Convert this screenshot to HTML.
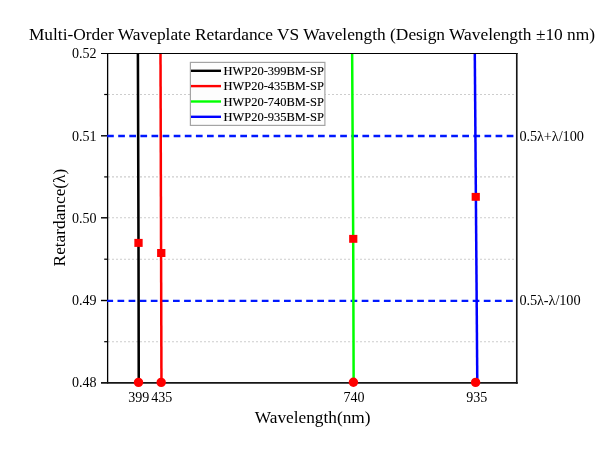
<!DOCTYPE html>
<html><head><meta charset="utf-8">
<style>
html,body{margin:0;padding:0;background:#fff;}
body{width:600px;height:459px;overflow:hidden;}
svg{display:block;will-change:transform;}
text{font-family:"Liberation Serif",serif;fill:#000;}
</style></head>
<body>
<svg width="600" height="459" viewBox="0 0 600 459">
<rect width="600" height="459" fill="#fff"/>
<!-- plot bg -->
<rect x="108" y="53" width="409" height="330" fill="#ffffff"/>
<!-- grid -->
<g stroke="#cdcdcd" stroke-width="1.1" stroke-dasharray="2 2">
<line x1="108" x2="515" y1="94.5" y2="94.5"/>
<line x1="108" x2="515" y1="176.9" y2="176.9"/>
<line x1="108" x2="515" y1="217.8" y2="217.8"/>
<line x1="108" x2="515" y1="259.2" y2="259.2"/>
<line x1="108" x2="515" y1="341.7" y2="341.7"/>
</g>
<!-- axes -->
<g stroke="#000" fill="none">
<line x1="101" x2="517.6" y1="53.5" y2="53.5" stroke-width="1.15"/>
<line x1="107.62" x2="107.62" y1="53" y2="383.4" stroke-width="1.3"/>
<line x1="101" x2="517.7" y1="382.87" y2="382.87" stroke-width="1.7" stroke="#161616"/>
<line x1="516.78" x2="516.78" y1="53" y2="383.7" stroke-width="1.65" stroke="#161616"/>
</g>
<g stroke="#000" stroke-width="1.4">
<line x1="101" x2="108" y1="135.8" y2="135.8"/>
<line x1="101" x2="108" y1="217.8" y2="217.8"/>
<line x1="101" x2="108" y1="300.5" y2="300.5"/>
<line x1="104.2" x2="108" y1="94.5" y2="94.5" stroke-width="1.2"/>
<line x1="104.2" x2="108" y1="176.9" y2="176.9" stroke-width="1.2"/>
<line x1="104.2" x2="108" y1="259.2" y2="259.2" stroke-width="1.2"/>
<line x1="104.2" x2="108" y1="341.7" y2="341.7" stroke-width="1.2"/>
</g>
<!-- dashed blue -->
<g stroke="#0018ff" stroke-width="2.3" stroke-dasharray="6.7 4.4">
<line x1="107.1" x2="516" y1="136.0" y2="136.0"/>
<line x1="107" x2="516" y1="300.8" y2="300.8" stroke-dashoffset="0.6"/>
</g>
<!-- data lines -->
<polyline points="137.9,54 138.5,243 138.75,383" fill="none" stroke="#000" stroke-width="2.55"/>
<line x1="160.5" x2="161.45" y1="54" y2="383" stroke="#ff0000" stroke-width="2.5"/>
<polyline points="352.15,54 353.2,238 353.65,383" fill="none" stroke="#00ff00" stroke-width="2.5"/>
<line x1="474.8" x2="477.3" y1="54" y2="383" stroke="#0000ff" stroke-width="2.5"/>
<!-- markers -->
<g fill="#ff0000">
<rect x="134.35" y="238.9" width="8.3" height="8"/>
<rect x="157.1" y="249" width="8.3" height="8"/>
<rect x="349.15" y="234.9" width="8.2" height="7.9"/>
<rect x="471.65" y="192.9" width="8.2" height="7.9"/>
<circle cx="138.5" cy="382.4" r="4.7"/>
<circle cx="161.2" cy="382.4" r="4.7"/>
<circle cx="353.4" cy="382.3" r="4.7"/>
<circle cx="475.6" cy="382.4" r="4.7"/>
</g>
<!-- legend -->
<rect x="190.4" y="62.4" width="134.5" height="63" fill="#fdfdfd" stroke="#a4a4a4" stroke-width="1.2"/>
<g stroke-width="2.4">
<line x1="191" x2="221" y1="70.8" y2="70.8" stroke="#000"/>
<line x1="191" x2="221" y1="86.1" y2="86.1" stroke="#ff0000"/>
<line x1="191" x2="221" y1="101.5" y2="101.5" stroke="#00ff00"/>
<line x1="191" x2="221" y1="116.8" y2="116.8" stroke="#0000ff"/>
</g>
<g font-size="12.45" stroke="#000" stroke-width="0.13">
<text x="223.6" y="74.9">HWP20-399BM-SP</text>
<text x="223.6" y="90.25">HWP20-435BM-SP</text>
<text x="223.6" y="105.65">HWP20-740BM-SP</text>
<text x="223.6" y="121">HWP20-935BM-SP</text>
</g>
<!-- y tick labels -->
<g font-size="14.05" text-anchor="end">
<text x="96.6" y="57.9">0.52</text>
<text x="96.6" y="140.6">0.51</text>
<text x="96.6" y="222.7">0.50</text>
<text x="96.6" y="305.4">0.49</text>
<text x="96.6" y="387.4">0.48</text>
</g>
<g font-size="14.05" text-anchor="middle">
<text x="138.7" y="401.7">399</text>
<text x="161.75" y="401.7">435</text>
<text x="354" y="401.7">740</text>
<text x="476.7" y="401.7">935</text>
</g>
<g font-size="14.3" letter-spacing="-0.08">
<text x="519.4" y="140.6">0.5λ+λ/100</text>
<text x="519.4" y="305.3">0.5λ-λ/100</text>
</g>
<text x="312.7" y="423.4" font-size="17.3" text-anchor="middle">Wavelength(nm)</text>
<text transform="translate(65.3,217.6) rotate(-90)" font-size="17.3" text-anchor="middle">Retardance(λ)</text>
<text x="312.0" y="39.6" font-size="17.38" text-anchor="middle">Multi-Order Waveplate Retardance VS Wavelength (Design Wavelength ±10 nm)</text>
</svg>
</body></html>
